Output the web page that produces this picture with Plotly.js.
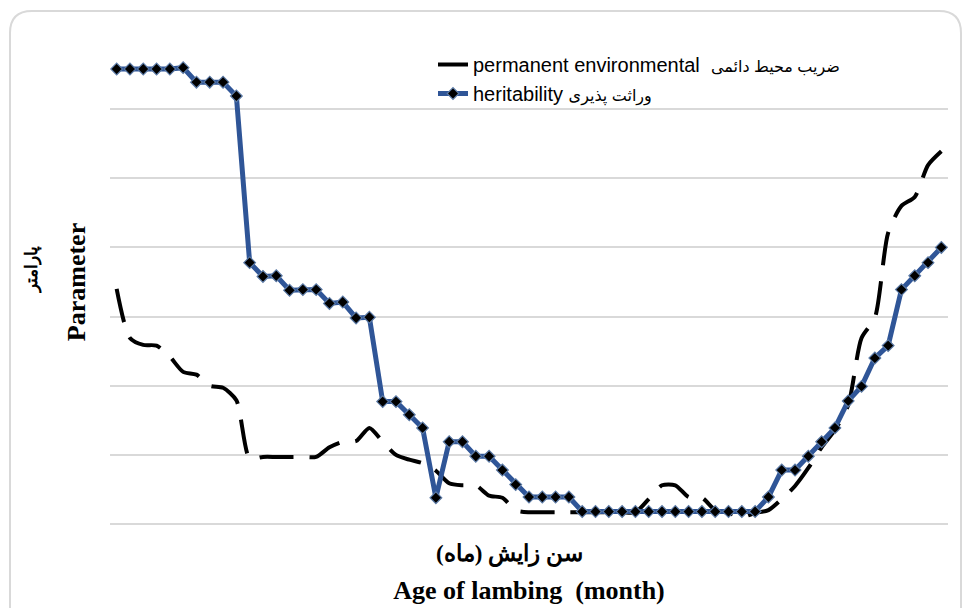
<!DOCTYPE html>
<html>
<head>
<meta charset="utf-8">
<script src="https://cdn.plot.ly/plotly-3.0.1.min.js"></script>
<style>html,body{margin:0;padding:0;background:#fff;}#chart{width:966px;height:608px;}</style>
</head>
<body>
<div id="chart"></div>
<script>
// Age of lambing (months) – category positions (no tick labels shown in the original)
const ageMonths = [12,13,14,15,16,17,18,19,20,21,22,23,24,25,26,27,28,29,30,31,32,33,34,35,36,37,38,39,40,41,42,43,44,45,46,47,48,49,50,51,52,53,54,55,56,57,58,59,60,61,62,63,64,65,66,67,68,69,70,71,72,73,74];

// Heritability (وراثت پذیری)
const heritability = [0.658,0.658,0.658,0.658,0.658,0.660,0.639,0.639,0.639,0.619,
  0.378,0.358,0.359,0.338,0.339,0.339,0.319,0.321,0.298,0.299,
  0.177,0.177,0.158,0.139,0.038,0.119,0.119,0.098,0.098,0.078,
  0.057,0.039,0.039,0.039,0.039,
  0.018,0.018,0.018,0.018,0.018,0.018,0.018,0.018,0.018,0.018,0.018,0.018,0.018,0.018,
  0.039,0.078,0.078,0.098,0.119,0.139,0.178,0.199,0.240,0.258,0.339,0.359,0.378,0.400];

// Permanent environmental (ضریب محیط دائمی)
const permanentEnv = [0.340,0.269,0.259,0.258,0.242,0.220,0.216,0.200,0.197,0.179,
  0.095,0.097,0.097,0.097,0.097,0.097,0.111,0.119,0.120,0.139,
  0.119,0.100,0.093,0.088,0.077,0.059,0.056,0.056,0.041,0.038,
  0.020,0.017,0.017,0.017,0.017,0.017,0.017,0.017,0.017,0.017,
  0.036,0.056,0.056,0.039,0.038,0.020,0.016,0.010,0.016,0.020,
  0.036,0.055,0.081,0.111,0.136,0.172,0.269,0.298,0.421,0.460,0.473,0.519,0.539];

const seriesEn = ['permanent environmental', 'heritability'];
const seriesFa = ['ضریب محیط دائمی', 'وراثت پذیری'];
const xTitleEn = '<b>Age of lambing  (month)</b>';
const xTitleFa = '<b>سن زایش (ماه)\u200F</b>';
const yTitleEn = '<b>Parameter</b>';
const yTitleFa = '<b>پارامتر</b>';

function legendName(i, gap) {
  return seriesEn[i] + gap + '<span style="font-size:16px">' + seriesFa[i] + '</span>';
}

const traces = [
  {
    x: ageMonths, y: permanentEnv, name: legendName(0, '\u00A0\u00A0'), type: 'scatter', mode: 'lines',
    legendgroup: 'a',
    line: {color: '#000000', width: 4, dash: '34px,16px', shape: 'spline', smoothing: 0.7}
  },
  {
    x: ageMonths, y: heritability, name: legendName(1, '\u00A0'), type: 'scatter', mode: 'lines+markers',
    legendgroup: 'b',
    line: {color: '#2F5597', width: 5},
    marker: {symbol: 'diamond', size: 9, color: '#000000', line: {color: '#5B7AA6', width: 1.2}}
  }
];

// plot area in pixels: x 110..948, y 40..524
const L = 110, R = 18, T = 40, B = 84, W = 966, H = 608;
const pw = W - L - R, ph = H - T - B;
function px(x) { return (x - L) / pw; }
function py(y) { return (H - B - y) / ph; }
const bl = px(10), br = px(961), bt = py(11), bb = py(640);
const rx = 22 / pw, ry = 22 / ph;
const borderPath = `M${bl},${bb} L${bl},${bt - ry} Q${bl},${bt} ${bl + rx},${bt} L${br - rx},${bt} Q${br},${bt} ${br},${bt - ry} L${br},${bb}`;

const layout = {
  width: W, height: H,
  margin: {l: L, r: R, t: T, b: B},
  paper_bgcolor: '#ffffff', plot_bgcolor: '#ffffff',
  showlegend: true,
  legend: {
    x: px(433), y: py(45), xanchor: 'left', yanchor: 'top',
    bgcolor: 'rgba(0,0,0,0)', borderwidth: 0,
    font: {family: 'Liberation Sans, Arial, DejaVu Sans, sans-serif', size: 20, color: '#000'},
    traceorder: 'grouped', tracegroupgap: 0
  },
  xaxis: {
    range: [11.5, 74.5], showticklabels: false, ticks: '', showgrid: false, zeroline: false,
    showline: false,
    title: {text: xTitleEn, standoff: 56, font: {family: 'Liberation Serif, Times New Roman, serif', size: 26, color: '#000'}}
  },
  yaxis: {
    range: [0, 0.7], dtick: 0.1, tick0: 0, showticklabels: false, ticks: '',
    showgrid: true, gridcolor: '#d9d9d9', gridwidth: 2,
    zeroline: true, zerolinecolor: '#d9d9d9', zerolinewidth: 2, showline: false,
    title: {text: yTitleEn, standoff: 15, font: {family: 'Liberation Serif, Times New Roman, serif', size: 26, color: '#000'}}
  },
  annotations: [
    {text: xTitleFa, xref: 'paper', yref: 'paper', x: px(509), y: py(554), xanchor: 'center', yanchor: 'middle', showarrow: false,
     font: {family: 'Liberation Serif, Times New Roman, DejaVu Serif, serif', size: 23, color: '#000'}},
    {text: yTitleFa, xref: 'paper', yref: 'paper', x: px(32), y: py(270), xanchor: 'center', yanchor: 'middle', showarrow: false, textangle: -90,
     font: {family: 'Liberation Serif, Times New Roman, DejaVu Serif, serif', size: 17, color: '#000'}}
  ],
  shapes: [
    {type: 'path', xref: 'paper', yref: 'paper', path: borderPath, line: {color: '#d9d9d9', width: 2}, layer: 'below'}
  ]
};

Plotly.newPlot('chart', traces, layout, {displayModeBar: false, staticPlot: true});
</script>
</body>
</html>
